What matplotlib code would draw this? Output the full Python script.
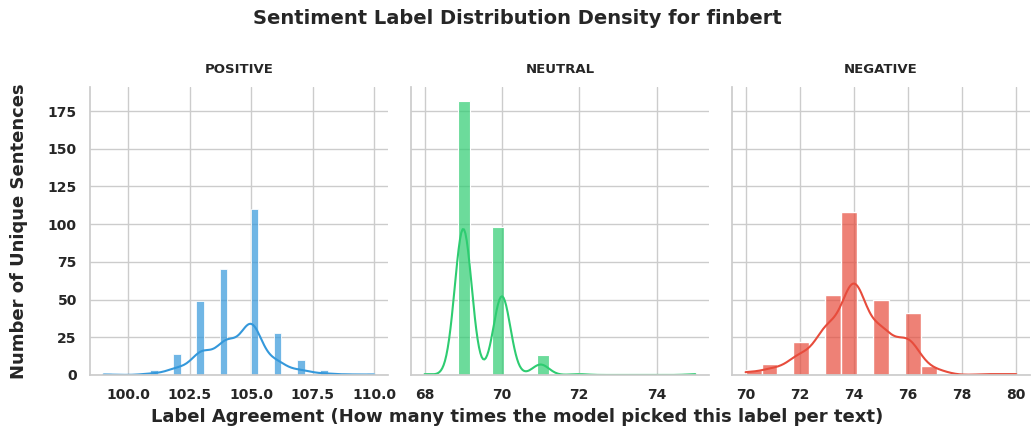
import numpy as np
import pandas as pd
import matplotlib.pyplot as plt
import seaborn as sns

# Значения согласия меток и число уникальных предложений для каждого значения
labels = ["POSITIVE", "NEUTRAL", "NEGATIVE"]
colors = ["#3498db", "#2ecc71", "#e74c3c"]

pos_values = [99, 101, 102, 103, 104, 105, 106, 107, 108, 109, 110]
pos_counts = [1, 3, 14, 49, 70, 110, 28, 10, 3, 1, 1]

neu_values = [68, 69, 70, 71, 72, 75]
neu_counts = [1, 182, 98, 13, 1, 1]

neg_values = [70, 71, 72, 73, 74, 75, 76, 77, 79, 80]
neg_counts = [3, 7, 22, 53, 108, 50, 41, 6, 1, 1]

pos_ticks = [100.0, 102.5, 105.0, 107.5, 110.0]

series = {
    "POSITIVE": (pos_values, pos_counts),
    "NEUTRAL": (neu_values, neu_counts),
    "NEGATIVE": (neg_values, neg_counts),
}

# Восстанавливаем наблюдения из таблицы частот
rows = []
for lab in labels:
    vals, cnts = series[lab]
    for v, c in zip(vals, cnts):
        rows += [(lab, v)] * c
df = pd.DataFrame(rows, columns=["label", "agreement"])

sns.set_theme(style="whitegrid")
plt.rcParams["font.family"] = ["DejaVu Sans"]
plt.rcParams["font.weight"] = "bold"

fig, axes = plt.subplots(1, 3, figsize=(10.35, 4.34), dpi=100, sharey=True)
fig.subplots_adjust(left=0.087, right=0.995, top=0.80, bottom=0.136, wspace=0.078)

for ax, lab, col in zip(axes, labels, colors):
    sub = df[df["label"] == lab]
    sns.histplot(data=sub, x="agreement", kde=True, color=col, alpha=0.7,
                 edgecolor="white", line_kws={"linewidth": 1.5}, ax=ax)
    ax.set_title(lab, fontsize=9.5, fontweight="bold", pad=10, color="#262626")
    ax.set_xlabel("")
    ax.set_ylabel("")
    ax.spines["top"].set_visible(False)
    ax.spines["right"].set_visible(False)
    ax.spines["left"].set_color("#cccccc")
    ax.spines["bottom"].set_color("#cccccc")

axes[0].set_xticks(pos_ticks)
axes[0].set_xticklabels([f"{t:.1f}" for t in pos_ticks])
axes[0].set_yticks(np.arange(0, 176, 25))

for ax in axes:
    ax.tick_params(axis="both", labelsize=10, colors="#262626")
    for t in ax.get_xticklabels() + ax.get_yticklabels():
        t.set_fontweight("bold")

fig.suptitle("Sentiment Label Distribution Density for finbert",
             fontsize=14, fontweight="bold", y=0.958, va="center", color="#262626")
fig.supxlabel("Label Agreement (How many times the model picked this label per text)",
              fontsize=13, fontweight="bold", y=0.04, va="center", color="#262626")
fig.supylabel("Number of Unique Sentences", fontsize=13, fontweight="bold",
              x=0.01, y=0.468, va="center", color="#262626")

fig.savefig("out.png", dpi=100)
